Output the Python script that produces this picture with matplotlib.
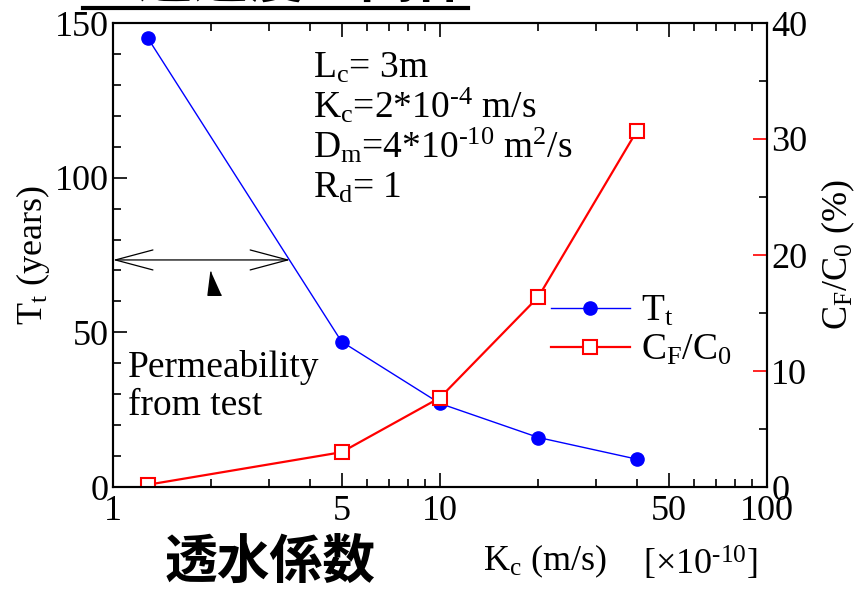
import matplotlib
matplotlib.use("Agg")
from matplotlib import pyplot as plt
from matplotlib.ticker import FixedLocator, NullFormatter
import numpy as np

plt.rcParams['font.family'] = ['Liberation Serif', 'Noto Sans CJK JP', 'DejaVu Sans']
plt.rcParams['mathtext.fontset'] = 'custom'
plt.rcParams['mathtext.rm'] = 'Liberation Serif'
plt.rcParams['mathtext.it'] = 'Liberation Serif:italic'
plt.rcParams['mathtext.bf'] = 'Liberation Serif:bold'

# data
kc = [1.28, 5, 10, 20, 40]            # permeability [x1e-10 m/s]
tt_years = [145, 47, 27, 16, 9]      # travel time
cf_c0 = [0.2, 3.0, 7.7, 16.4, 30.7]  # concentration ratio [%]

x_ticks = [1, 5, 10, 50, 100]
x_minor = [2, 3, 4, 6, 7, 8, 9, 20, 30, 40, 60, 70, 80, 90]
left_ticks = [0, 50, 100, 150]
right_ticks = [0, 10, 20, 30, 40]

test_range = (1, 3.48)   # permeability from test
test_level = 73.4
cursor_pos = (2.04, 66)

W, H = 860, 589
fs = 26
fs_txt = 27

def px(x, y):
    return x / W, 1 - y / H

fig = plt.figure(figsize=(W / 100, H / 100), dpi=100)
ax = fig.add_axes([113 / W, 1 - 487 / H, (767 - 113) / W, (487 - 23) / H])
ax2 = ax.twinx()

l1, = ax.plot(kc, tt_years, color="blue", lw=1.0, marker="o", ms=9.5,
              mfc="blue", mec="blue", label=r"T$_\mathrm{t}$")
l2, = ax2.plot(kc, cf_c0, color="red", lw=1.6, marker="s", ms=10,
               mfc="white", mec="red", mew=1.5, label=r"C$_\mathrm{F}$/C$_\mathrm{0}$")

ax.set_xscale("log")
ax.set_xlim(1, 100)
ax.set_ylim(0, 150)
ax2.set_ylim(0, 40)

ax.xaxis.set_major_locator(FixedLocator(x_ticks))
ax.xaxis.set_minor_locator(FixedLocator(x_minor))
ax.xaxis.set_minor_formatter(NullFormatter())
ax.set_xticklabels([str(t) for t in x_ticks])
ax.set_yticks(left_ticks)
ax.yaxis.set_minor_locator(FixedLocator(np.arange(0, 151, 10)))
ax2.set_yticks(right_ticks)
ax2.yaxis.set_minor_locator(FixedLocator(np.arange(5, 40, 10)))

for a in (ax, ax2):
    for s in a.spines.values():
        s.set_linewidth(1.5)

ax.tick_params(which="both", direction="in", top=True, right=False, labelsize=fs, width=1.2)
ax.tick_params(which="major", length=10)
ax.tick_params(which="minor", length=6)
ax.tick_params(axis="y", pad=3)
ax.tick_params(axis="x", pad=6)
ax2.tick_params(which="both", direction="in", labelsize=fs, width=1.2, pad=3)
ax2.tick_params(which="major", length=10, color="red")
ax2.tick_params(which="minor", length=6, color="black")

ax.set_ylabel(r"T$_\mathrm{t}$ (years)", fontsize=fs, labelpad=2)
ax2.set_ylabel(r"C$_\mathrm{F}$/C$_\mathrm{0}$ (%)", fontsize=fs, labelpad=9)

# permeability range from test
ax.annotate("", xy=(test_range[0], test_level), xytext=(test_range[1], test_level),
            arrowprops=dict(arrowstyle="<->,head_length=1.5,head_width=0.4",
                            color="black", lw=0.9, shrinkA=0, shrinkB=0,
                            mutation_scale=18))
ax.plot(*cursor_pos, marker=[(-0.3, 1), (-0.55, -1), (0.6, -1)], ms=17, color="black",
        linestyle="none")
fig.text(*px(128, 377), "Permeability", fontsize=fs_txt, va="baseline")
fig.text(*px(128, 415), "from test", fontsize=fs_txt, va="baseline")

# parameters
params = [r"L$_\mathrm{c}$= 3m",
          r"K$_\mathrm{c}$=2*10$^\mathrm{‐4}$ m/s",
          r"D$_\mathrm{m}$=4*10$^\mathrm{‐10}$ m$^\mathrm{2}$/s",
          r"R$_\mathrm{d}$= 1"]
for i, p in enumerate(params):
    fig.text(*px(313, 78 + 40 * i), p, fontsize=fs_txt, va="baseline")

ax.legend(handles=[l1, l2], loc="center left", bbox_to_anchor=px(551, 331),
          bbox_transform=fig.transFigure, frameon=False, fontsize=fs_txt,
          handlelength=2.1, handletextpad=0.3, labelspacing=0.12, borderpad=0,
          borderaxespad=0)

# bottom texts
fig.text(*px(270, 562), "透水係数", fontsize=38, fontweight="bold",
         family="Noto Sans CJK JP", ha="center", va="center")
fig.text(*px(483, 570), r"K$_\mathrm{c}$ (m/s)", fontsize=fs, va="baseline")
fig.text(*px(643, 575), r"[×10$^\mathrm{‐10}$]", fontsize=fs, va="baseline")

# cut title at the top
fig.text(*px(276, -3), "と透過度の関係", fontsize=40, fontweight="bold",
         family="Noto Sans CJK JP", ha="center", va="baseline")
fig.add_artist(plt.Line2D([83 / W, 468 / W], [1 - 8 / H, 1 - 8 / H], color="black",
                          lw=3, transform=fig.transFigure))

fig.savefig("out.png", dpi=100)
